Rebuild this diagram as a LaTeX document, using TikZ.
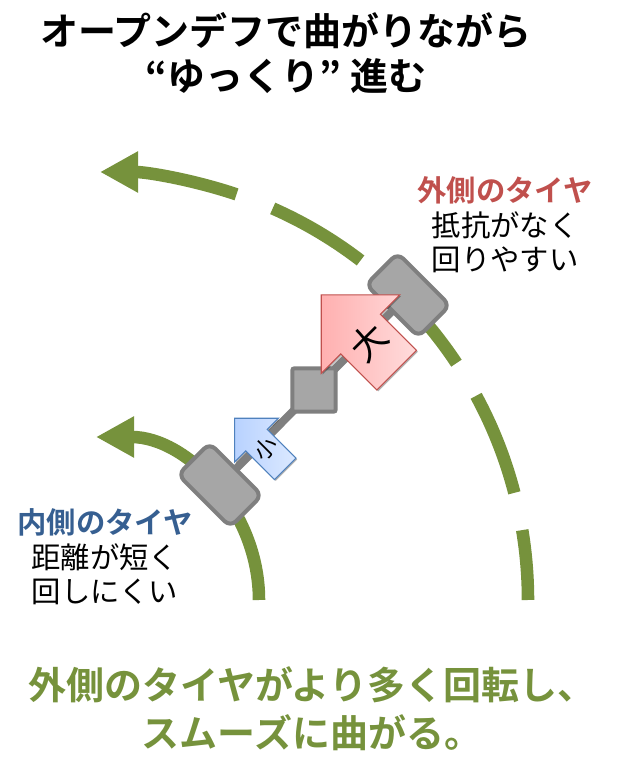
\documentclass[tikz,border=0pt]{standalone}
\usepackage{fontspec}
\setmainfont[BoldFont={Noto Sans CJK JP Bold}]{Noto Sans CJK JP}
\usetikzlibrary{arrows.meta,shadows,shapes.arrows}
\definecolor{trackgreen}{HTML}{76923C}
\definecolor{tyregray}{HTML}{A6A6A6}
\definecolor{tyreedge}{HTML}{7F7F7F}
\definecolor{bigedge}{HTML}{C0504D}
\definecolor{bigdark}{HTML}{FFB0B0}
\definecolor{biglight}{HTML}{FFDCDC}
\definecolor{smalledge}{HTML}{4F81BD}
\definecolor{smalldark}{HTML}{B8D2FF}
\definecolor{smalllight}{HTML}{DCE9FF}
\tikzset{
  track/.style={draw=trackgreen,line width=9.4pt},
  trackend/.style={track,-{Triangle[length=28.5pt,width=29pt]}},
  tyre/.style={draw=tyreedge,fill=tyregray,line width=3pt,rounded corners=6pt,
    minimum width=55.5pt,minimum height=33.5pt,rotate=-45},
  hubbox/.style={draw=tyreedge,fill=tyregray,line width=3pt,rounded corners=1.5pt,minimum size=32.5pt},
  axle/.style={draw=tyreedge,line width=6pt},
  forcearrow/.style={single arrow,anchor=tip,rotate=45,shape border rotate=90,inner sep=0pt,line width=.8pt,align=center,
    drop shadow={shadow xshift=1pt,shadow yshift=-1pt,opacity=.3,fill=black}},
  bigforce/.style={forcearrow,draw=bigedge,left color=bigdark,right color=biglight,text width=41.2pt,
    minimum height=80pt,minimum width=82.5pt,single arrow head extend=20.6pt,font=\fontsize{27}{27}\selectfont},
  smallforce/.style={forcearrow,draw=smalledge,left color=smalldark,right color=smalllight,text width=22pt,
    minimum height=53.7pt,minimum width=45.7pt,single arrow head extend=11.9pt,font=\fontsize{17}{17}\selectfont},
  headline/.style={align=center,font=\bfseries\fontsize{28.5}{34}\selectfont},
  sidenote/.style={align=center,font=\fontsize{22}{26}\selectfont}
}
\begin{document}
\begin{tikzpicture}[x=.75pt,y=.75pt]
\useasboundingbox (0,0) rectangle (619,782);
\coordinate (outerhub) at (100,182);
\coordinate (innerhub) at (96,182);
\coordinate (outeraxle) at (408,487);
\coordinate (inneraxle) at (220,297);

\foreach \from/\to in {0/9.4,14.5/28.5,33.6/45,52.5/66.2}
  \draw[track] ([shift={(\from:428)}]outerhub) arc[start angle=\from,end angle=\to,radius=428];
\draw[trackend] ([shift={(71.4:428)}]outerhub) arc[start angle=71.4,end angle=90,radius=428];
\draw[trackend] ([shift={(0:163)}]innerhub) arc[start angle=0,end angle=90,radius=163];

\draw[axle] (inneraxle) -- (outeraxle);
\node[tyre] (outertyre) at (outeraxle) {};
\node[tyre] (innertyre) at (inneraxle) {};
\node[hubbox] (hub) at (314,392) {};

\node[bigforce] (bigarrow) at (320.7,487.7) {大};
\node[smallforce] (smallarrow) at (234,364.3) {小};

\node[headline] (title) at (286,729) {オープンデフで曲がりながら\\“ゆっくり” 進む};
\node[sidenote] (outernote) at (505,557) {\textcolor[HTML]{C0504D}{\textbf{外側のタイヤ}}\\抵抗がなく\\回りやすい};
\node[sidenote] (innernote) at (105,225) {\textcolor[HTML]{365F91}{\textbf{内側のタイヤ}}\\距離が短く\\回しにくい};
\node[headline,text=trackgreen,font=\bfseries\fontsize{28.5}{36}\selectfont] (summary) at (312,73) {外側のタイヤがより多く回転し、\\スムーズに曲がる。};
\end{tikzpicture}
\end{document}
